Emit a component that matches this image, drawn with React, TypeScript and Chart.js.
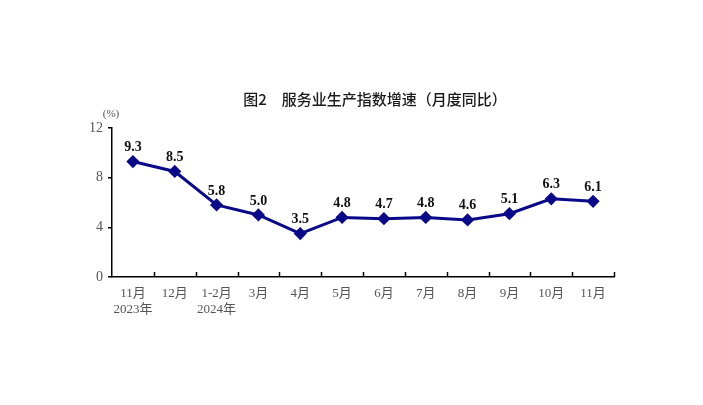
import React, { useEffect, useRef } from 'react';
import { Chart, registerables } from 'chart.js';

Chart.register(...registerables);

const categories: string[][] = [
  ['11月', '2023年'], ['12月'], ['1-2月', '2024年'], ['3月'], ['4月'], ['5月'],
  ['6月'], ['7月'], ['8月'], ['9月'], ['10月'], ['11月'],
];
const values: number[] = [9.3, 8.5, 5.8, 5.0, 3.5, 4.8, 4.7, 4.8, 4.6, 5.1, 6.3, 6.1];
const yTicks: number[] = [0, 4, 8, 12];
const titleText = '图2　服务业生产指数增速（月度同比）';
const unitText = '(%)';

const SERIF = '"Liberation Serif", "Times New Roman", "Noto Sans CJK SC", serif';
const LINE_COLOR = '#0a0a88';

const overlay = {
  id: 'overlay',
  afterDatasetsDraw(chart: any) {
    const ctx = chart.ctx;
    const area = chart.chartArea;
    const meta = chart.getDatasetMeta(0);
    ctx.save();
    // inward x ticks
    const xs = chart.scales.x;
    const step = xs.getPixelForValue(1) - xs.getPixelForValue(0);
    ctx.strokeStyle = '#000';
    ctx.lineWidth = 1.5;
    for (let i = 0; i < categories.length; i++) {
      const px = Math.round(xs.getPixelForValue(i) + step / 2) + 0.5;
      ctx.beginPath();
      ctx.moveTo(px, area.bottom);
      ctx.lineTo(px, area.bottom - 5);
      ctx.stroke();
    }
    // data labels
    ctx.font = 'bold 14px ' + SERIF;
    ctx.fillStyle = '#111';
    ctx.textAlign = 'center';
    ctx.textBaseline = 'middle';
    meta.data.forEach((pt: any, i: number) => {
      ctx.fillText(values[i].toFixed(1), pt.x, pt.y - 14);
    });
    // title
    ctx.font = '500 15px "Noto Sans CJK SC", sans-serif';
    ctx.fillStyle = '#1a1a1a';
    ctx.textAlign = 'center';
    ctx.fillText(titleText, (area.left + area.right) / 2 + 12, 99);
    // unit
    ctx.font = '11px ' + SERIF;
    ctx.fillStyle = '#555';
    ctx.fillText(unitText, area.left - 1, 114);
    ctx.restore();
  },
};

export default function App() {
  const ref = useRef<HTMLCanvasElement>(null);
  useEffect(() => {
    const chart = new Chart(ref.current!, {
      type: 'line',
      data: {
        labels: categories,
        datasets: [
          {
            data: values,
            borderColor: LINE_COLOR,
            backgroundColor: LINE_COLOR,
            borderWidth: 3,
            pointStyle: 'rectRot',
            pointRadius: 4.5,
            pointBackgroundColor: LINE_COLOR,
            pointBorderColor: LINE_COLOR,
            tension: 0,
          },
        ],
      },
      options: {
        animation: false,
        responsive: false,
        layout: { padding: { left: 0, right: 89, top: 128, bottom: 88 } },
        plugins: {
          legend: { display: false },
          title: { display: false },
          tooltip: { enabled: false },
        },
        scales: {
          x: {
            offset: true,
            grid: { display: true, drawOnChartArea: false, drawTicks: false, offset: true },
            border: { display: true, color: '#000', width: 1.5 },
            ticks: {
              color: '#555',
              font: { family: SERIF, size: 13 },
              padding: 9,
              maxRotation: 0,
              autoSkip: false,
            },
            afterFit: (s: any) => { s.height = 40; },
          },
          y: {
            min: 0,
            max: 12,
            afterBuildTicks: (s: any) => { s.ticks = yTicks.map((v) => ({ value: v })); },
            grid: { display: true, drawOnChartArea: false, drawTicks: true, tickLength: 4, color: '#000', lineWidth: 1.5 },
            border: { display: true, color: '#000', width: 1.5 },
            ticks: {
              color: '#555',
              font: { family: SERIF, size: 14 },
              padding: 5,
            },
            afterFit: (s: any) => { s.width = 112; },
          },
        },
      },
      plugins: [overlay],
    });
    return () => chart.destroy();
  }, []);
  return (
    <div style={{ position: 'fixed', left: 0, top: 0, width: 703, height: 405, background: '#fff' }}>
      <canvas ref={ref} width={703} height={405} style={{ display: 'block' }} />
    </div>
  );
}
